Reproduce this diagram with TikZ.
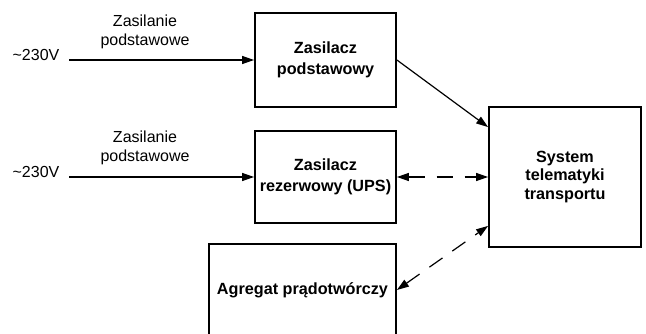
\documentclass[tikz,border=0pt]{standalone}
\usepackage{fontspec}
\setmainfont{Liberation Sans}
\usetikzlibrary{arrows.meta}
\begin{document}
\begin{tikzpicture}[x=1pt,y=-1pt,
  blk/.style={draw,line width=1.8pt,inner sep=0pt,align=center,font=\fontsize{16.2}{21}\selectfont\bfseries},
  lbl/.style={inner sep=0pt,align=center,font=\fontsize{16}{18.5}\selectfont},
  conn/.style={line width=1.2pt,-{Triangle[length=12pt,width=8pt]}},
  dconn/.style={line width=1.2pt,{Triangle[length=12pt,width=8pt]}-{Triangle[length=12pt,width=8pt]},dash pattern=on 16pt off 12pt}]
\clip (0,0) rectangle (646,334);
\node[blk,minimum width=141pt,minimum height=94pt] (b1) at (325.5,60) {Zasilacz\\podstawowy};
\node[blk,minimum width=141pt,minimum height=92pt] (b2) at (325.5,177) {Zasilacz\\rezerwowy (UPS)};
\node[blk,minimum width=187pt,minimum height=92pt] (b3) at (302.5,290) {Agregat prądotwórczy};
\node[blk,minimum width=152pt,minimum height=140pt,font=\fontsize{16.2}{18.5}\selectfont\bfseries] (b4) at (565,177) {System\\telematyki\\transportu};
\coordinate (in1) at (69,60);
\coordinate (in2) at (69,177);
\node[lbl] (v1) at (36,55) {\textasciitilde 230V};
\node[lbl] (v2) at (36,172) {\textasciitilde 230V};
\node[lbl] (z1) at (145,32) {Zasilanie\\podstawowe};
\node[lbl] (z2) at (145,148) {Zasilanie\\podstawowe};
\draw[conn] (in1) -- (b1.west);
\draw[conn] (in2) -- (b2.west);
\draw[conn] (b1.east) -- ([yshift=-21pt]b4.north west);
\draw[dconn] (b2.east) -- (b4.west);
\draw[dconn] (b3.east) -- ([yshift=22pt]b4.south west);
\end{tikzpicture}
\end{document}
